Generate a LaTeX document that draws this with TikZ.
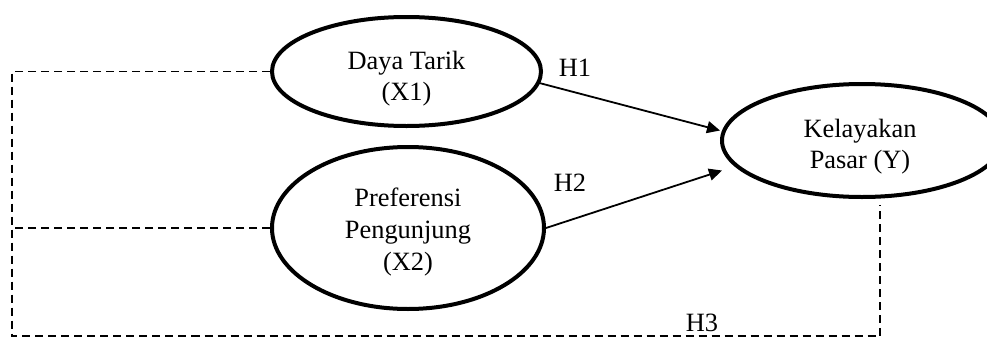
\documentclass[tikz,border=0pt]{standalone}
\usepackage{fontspec}
\setmainfont{Liberation Serif}
\usetikzlibrary{shapes,shapes.geometric}
\usetikzlibrary{arrows.meta}
\usetikzlibrary{positioning}
\begin{document}
\begin{tikzpicture}[x=0.5pt,y=-0.5pt]
\tikzset{variabel/.style={ellipse,draw,line width=2pt,inner sep=0pt},
teks/.style={align=center,inner sep=0pt,font=\fontsize{13.2}{15.8}\selectfont},
panah/.style={line width=0.9pt,-{Triangle[length=6.5pt,width=6pt]}},
garis/.style={line width=0.9pt,dash pattern=on 4pt off 2.5pt}}
\useasboundingbox (0,0) rectangle (987,338);
\node[variabel,minimum width=134.5pt,minimum height=54.5pt](x1) at (406.5,71.5){};
\node[variabel,minimum width=136pt,minimum height=81pt](x2) at (408,228){};
\node[variabel,minimum width=140pt,minimum height=56.5pt](y) at (862,140.5){};
\node[teks](tx1) at ([shift={(0,7)}]x1.center){Daya Tarik\\(X1)};
\node[teks](tx2) at ([shift={(0,4)}]x2.center){Preferensi\\Pengunjung\\(X2)};
\node[teks](ty) at ([shift={(-2,6)}]y.center){Kelayakan\\Pasar (Y)};
\node[teks](h1) at (575,68){H1};
\node[teks](h2) at (570,183){H2};
\node[teks](h3) at (702,323){H3};
\coordinate (t1) at ([shift={(0,-10)}]y.west);
\coordinate (t2) at ([shift={(2,30)}]y.west);
\coordinate (kaki) at ([shift={(18,6)}]y.south);
\coordinate (sudut) at (12,336);
\draw[panah](x1.-5) -- (t1);
\draw[panah](x2.east) -- (t2);
\draw[garis](x1.west) -| (sudut) -| (kaki);
\draw[garis](x2.west) -- (x2.west -| sudut);
\end{tikzpicture}
\end{document}
